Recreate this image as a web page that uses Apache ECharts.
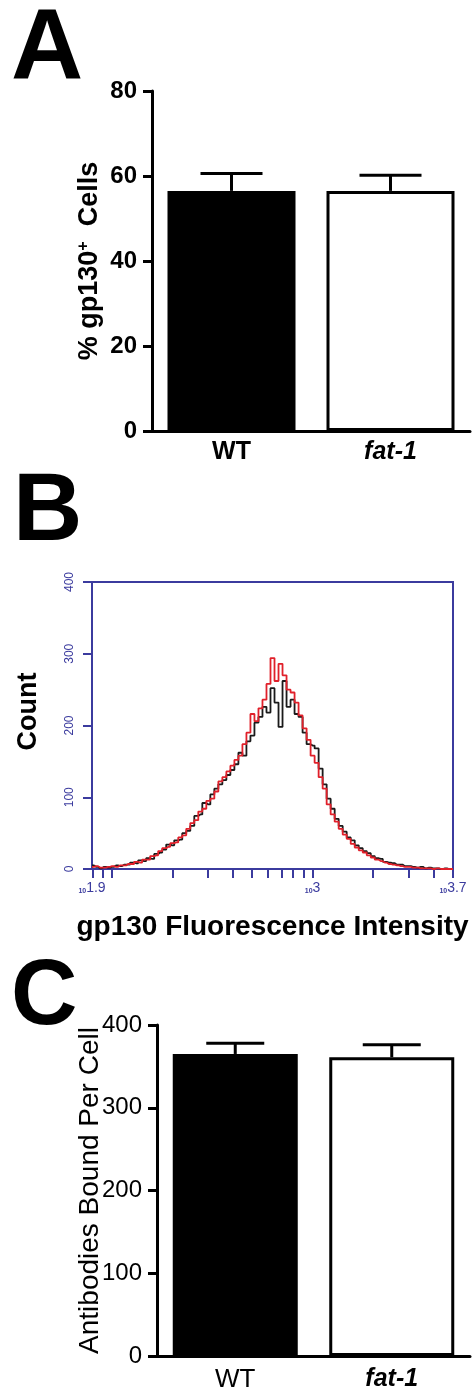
<!DOCTYPE html>
<html>
<head>
<meta charset="utf-8">
<style>
  html, body { margin: 0; padding: 0; background: #fff; }
  #chart { width: 474px; height: 1395px; }
</style>
<script src="https://cdn.jsdelivr.net/npm/echarts@6/dist/echarts.min.js"></script>
</head>
<body>
<div id="chart"></div>
<script>
// groups shared by panels A and C
const groups = ['WT', 'fat-1'];

// A: % gp130+ cells (mean, upper SEM)
const pctMean = [56.5, 56.5];
const pctErr = [4.1, 3.7];

// C: antibodies bound per cell
const abMean = [365, 361];
const abErr = [13, 15];

// B: flow histogram, bin position in log10(intensity)
const binLog = [
  1.90, 1.92, 1.94, 1.96, 1.98, 2.00, 2.02, 2.04, 2.06, 2.08,
  2.10, 2.12, 2.14, 2.16, 2.18, 2.20, 2.22, 2.24, 2.26, 2.28,
  2.30, 2.32, 2.34, 2.36, 2.38, 2.40, 2.42, 2.44, 2.46, 2.48,
  2.50, 2.52, 2.54, 2.56, 2.58, 2.60, 2.62, 2.64, 2.66, 2.68,
  2.70, 2.72, 2.74, 2.76, 2.78, 2.80, 2.82, 2.84, 2.86, 2.88,
  2.90, 2.92, 2.94, 2.96, 2.98, 3.00, 3.02, 3.04, 3.06, 3.08,
  3.10, 3.12, 3.14, 3.16, 3.18, 3.20, 3.22, 3.24, 3.26, 3.28,
  3.30, 3.32, 3.34, 3.36, 3.38, 3.40, 3.42, 3.44, 3.46, 3.48,
  3.50, 3.52, 3.54, 3.56, 3.58, 3.60, 3.62, 3.64, 3.66, 3.68,
  3.70
];
const wtCount = [
  5, 3, 1, 3, 2, 3, 5, 4, 6, 6,
  9, 8, 12, 11, 15, 14, 21, 23, 27, 34,
  33, 40, 41, 50, 53, 60, 74, 76, 92, 90,
  104, 112, 118, 124, 131, 138, 146, 162, 158, 178,
  186, 204, 212, 226, 218, 252, 232, 198, 262, 226,
  236, 216, 212, 190, 174, 172, 168, 140, 118, 98,
  84, 70, 60, 52, 44, 40, 33, 29, 25, 22,
  18, 15, 14, 10, 9, 8, 6, 6, 4, 4,
  3, 2, 3, 1, 2, 1, 1, 0, 1, 0,
  0
];
const fat1Count = [
  3, 4, 2, 2, 3, 4, 3, 5, 5, 7,
  7, 10, 9, 13, 13, 18, 19, 25, 29, 31,
  36, 37, 44, 47, 56, 64, 68, 80, 84, 95,
  98, 108, 122, 128, 136, 144, 152, 158, 174, 190,
  216, 206, 224, 236, 258, 294, 262, 286, 270, 250,
  246, 232, 214, 196, 180, 158, 148, 128, 112, 90,
  76, 66, 56, 48, 42, 35, 30, 26, 23, 19,
  16, 13, 11, 9, 7, 6, 5, 4, 3, 3,
  2, 2, 1, 1, 1, 0, 1, 0, 0, 0,
  0
];
// log ticks (raw intensity) and labelled exponents
const histTickIntensity = [80, 90, 100, 200, 300, 400, 500, 600, 700, 800, 900,
  1000, 2000, 3000, 4000, 5000];
const histLabelExp = [1.9, 3, 3.7];

const FONT = '"Liberation Sans", Arial, sans-serif';
const BLUE = '#3b3b9e';

function errorBar(half) {
  return function (params, api) {
    const x = api.value(0), m = api.value(1), e = api.value(2);
    const base = api.coord([x, m]);
    const top = api.coord([x, m + e]);
    const style = { stroke: '#000', lineWidth: 3 };
    return {
      type: 'group',
      children: [
        { type: 'line', shape: { x1: base[0], y1: base[1], x2: top[0], y2: top[1] }, style: style },
        { type: 'line', shape: { x1: top[0] - half, y1: top[1], x2: top[0] + half, y2: top[1] }, style: style }
      ]
    };
  };
}

function barData(vals) {
  return vals.map((v, i) => ({ value: v, itemStyle: { color: i === 0 ? '#000' : '#fff' } }));
}

const chart = echarts.init(document.getElementById('chart'));

chart.setOption({
  animation: false,
  backgroundColor: '#fff',
  textStyle: { fontFamily: FONT },
  graphic: [
    { type: 'text', left: 11, top: 1, style: { text: 'A', font: 'bold 100px ' + FONT, fill: '#000' } },
    { type: 'text', left: 13, top: 466, style: { text: 'B', font: 'bold 96px ' + FONT, fill: '#000' } },
    { type: 'text', left: 11, top: 953, style: { text: 'C', font: 'bold 92px ' + FONT, fill: '#000' } }
  ],
  grid: [
    { left: 152, top: 91, width: 318, height: 340, outerBoundsMode: 'none' },
    { left: 92, top: 582, width: 361, height: 287, outerBoundsMode: 'none',
      show: true, borderColor: BLUE, borderWidth: 2, backgroundColor: 'transparent' },
    { left: 157, top: 1025, width: 313, height: 331, outerBoundsMode: 'none' }
  ],
  xAxis: [
    {
      gridIndex: 0, type: 'category', data: groups,
      axisLine: { lineStyle: { color: '#000', width: 3 } },
      axisTick: { alignWithLabel: true, length: 7, lineStyle: { width: 2.5, color: '#000' } },
      axisLabel: {
        margin: 9, color: '#000', fontSize: 25, fontWeight: 'bold', fontFamily: FONT,
        formatter: v => v === 'fat-1' ? '{i|' + v + '}' : v,
        rich: { i: { fontSize: 25, fontWeight: 'bold', fontStyle: 'italic', fontFamily: FONT, color: '#000' } }
      }
    },
    {
      gridIndex: 1, type: 'value', min: 1.9, max: 3.7,
      name: 'gp130 Fluorescence Intensity', nameLocation: 'middle', nameGap: 44,
      nameMoveOverlap: false,
      nameTextStyle: { fontSize: 28, fontWeight: 'bold', color: '#000', fontFamily: FONT },
      splitLine: { show: false },
      axisLine: { lineStyle: { color: BLUE, width: 2 } },
      axisTick: {
        customValues: histTickIntensity.map(v => Math.log10(v)),
        length: 9, lineStyle: { color: BLUE, width: 2 }
      },
      axisLabel: {
        customValues: histLabelExp, margin: 12, color: BLUE,
        formatter: v => '{s|10}{e|' + v + '}',
        rich: {
          s: { fontSize: 7, fontWeight: 'bold', color: BLUE, verticalAlign: 'bottom', fontFamily: FONT },
          e: { fontSize: 14, color: BLUE, fontFamily: FONT }
        }
      }
    },
    {
      gridIndex: 2, type: 'category', data: groups,
      axisLine: { lineStyle: { color: '#000', width: 3 } },
      axisTick: { alignWithLabel: true, length: 7, lineStyle: { width: 2.5, color: '#000' } },
      axisLabel: {
        margin: 11, color: '#000', fontSize: 26, fontFamily: FONT,
        formatter: v => v === 'fat-1' ? '{i|' + v + '}' : v,
        rich: { i: { fontSize: 25, fontWeight: 'bold', fontStyle: 'italic', fontFamily: FONT, color: '#000' } }
      }
    }
  ],
  yAxis: [
    {
      gridIndex: 0, type: 'value', min: 0, max: 80, interval: 20,
      name: '% gp130{sup|+}  Cells', nameLocation: 'middle', nameRotate: 90, nameGap: 49,
      nameMoveOverlap: false,
      nameTextStyle: {
        fontSize: 27, fontWeight: 'bold', color: '#000', fontFamily: FONT,
        rich: { sup: { fontSize: 16, fontWeight: 'bold', verticalAlign: 'top', color: '#000', fontFamily: FONT } }
      },
      splitLine: { show: false },
      axisLine: { show: true, lineStyle: { color: '#000', width: 3 } },
      axisTick: { show: true, length: 9, lineStyle: { color: '#000', width: 3 } },
      axisLabel: { margin: 15, color: '#000', fontSize: 24, fontWeight: 'bold', fontFamily: FONT }
    },
    {
      gridIndex: 1, type: 'value', min: 0, max: 400, interval: 100,
      name: 'Count', nameLocation: 'middle', nameRotate: 90, nameGap: 50,
      nameMoveOverlap: false,
      nameTextStyle: { fontSize: 27, fontWeight: 'bold', color: '#000', fontFamily: FONT, padding: [0, 0, 0, 28] },
      splitLine: { show: false },
      axisLine: { show: true, lineStyle: { color: BLUE, width: 2 } },
      axisTick: { show: true, length: 9, lineStyle: { color: BLUE, width: 2 } },
      axisLabel: { rotate: 90, margin: 16, color: BLUE, fontSize: 12, fontFamily: FONT }
    },
    {
      gridIndex: 2, type: 'value', min: 0, max: 400, interval: 100,
      name: 'Antibodies Bound Per Cell', nameLocation: 'middle', nameRotate: 90, nameGap: 53,
      nameMoveOverlap: false,
      nameTextStyle: { fontSize: 28, color: '#000', fontFamily: FONT },
      splitLine: { show: false },
      axisLine: { show: true, lineStyle: { color: '#000', width: 3 } },
      axisTick: { show: true, length: 9, lineStyle: { color: '#000', width: 3 } },
      axisLabel: { margin: 15, color: '#000', fontSize: 24, fontFamily: FONT }
    }
  ],
  series: [
    {
      type: 'bar', xAxisIndex: 0, yAxisIndex: 0, barWidth: 128,
      itemStyle: { borderColor: '#000', borderWidth: 3 },
      data: barData(pctMean)
    },
    {
      type: 'custom', xAxisIndex: 0, yAxisIndex: 0, z: 5,
      renderItem: errorBar(31),
      data: pctMean.map((m, i) => [i, m, pctErr[i]])
    },
    {
      type: 'line', xAxisIndex: 1, yAxisIndex: 1, step: 'middle', symbol: 'none',
      lineStyle: { color: '#1a1a1a', width: 1.8 },
      data: binLog.map((x, i) => [x, wtCount[i]])
    },
    {
      type: 'line', xAxisIndex: 1, yAxisIndex: 1, step: 'middle', symbol: 'none',
      lineStyle: { color: '#e0202a', width: 1.8 },
      data: binLog.map((x, i) => [x, fat1Count[i]])
    },
    {
      type: 'bar', xAxisIndex: 2, yAxisIndex: 2, barWidth: 125,
      itemStyle: { borderColor: '#000', borderWidth: 3 },
      data: barData(abMean)
    },
    {
      type: 'custom', xAxisIndex: 2, yAxisIndex: 2, z: 5,
      renderItem: errorBar(29),
      data: abMean.map((m, i) => [i, m, abErr[i]])
    }
  ]
});
</script>
</body>
</html>
